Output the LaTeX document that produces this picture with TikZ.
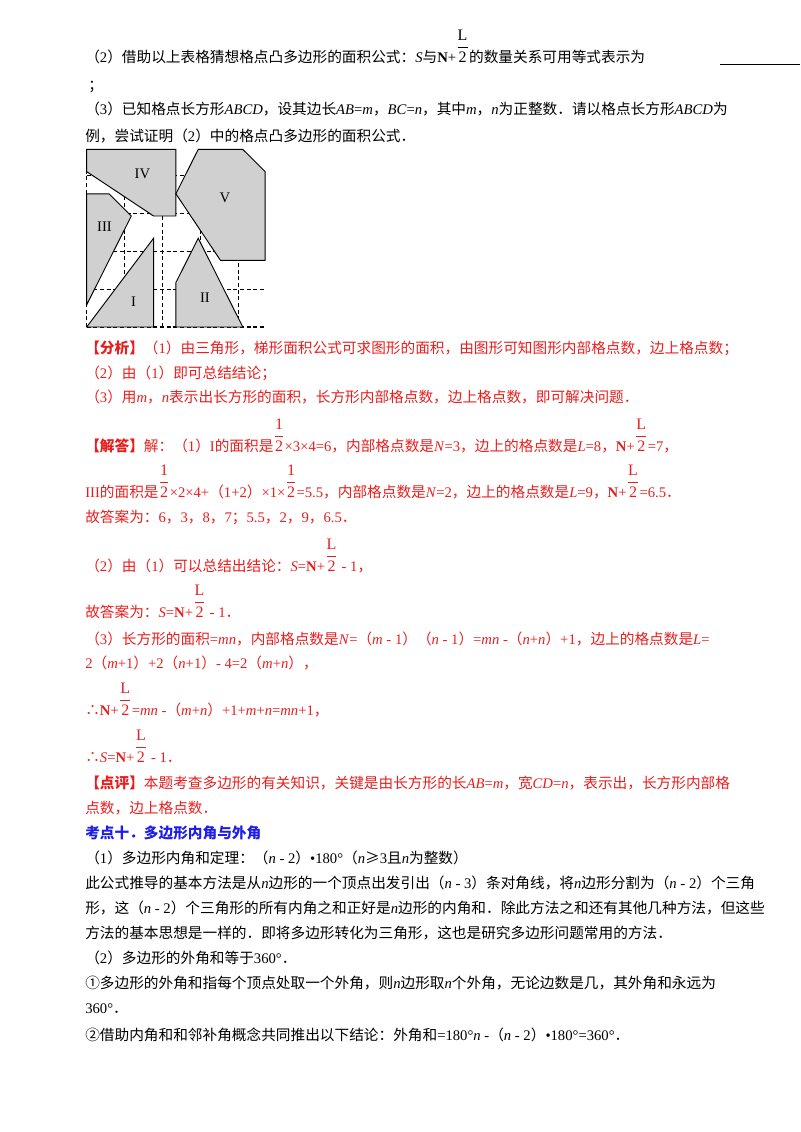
\documentclass[tikz,border=0pt]{standalone}
\usepackage{fontspec}
\setmainfont{Liberation Serif}
\newfontfamily\cjk{Noto Sans CJK SC}
\newcommand\latn{\rmfamily}
\XeTeXinterchartokenstate=1
\newXeTeXintercharclass\CJKcls
\newcount\cc
\cc="3000 \loop \XeTeXcharclass\cc=\CJKcls \ifnum\cc<"9FFF \advance\cc 1 \repeat
\cc="FF00 \loop \XeTeXcharclass\cc=\CJKcls \ifnum\cc<"FFEF \advance\cc 1 \repeat
\cc="2460 \loop \XeTeXcharclass\cc=\CJKcls \ifnum\cc<"2473 \advance\cc 1 \repeat
\XeTeXcharclass"2234=\CJKcls
\XeTeXcharclass"2265=\CJKcls
\XeTeXinterchartoks 0 \CJKcls = {\cjk}
\XeTeXinterchartoks 4095 \CJKcls = {\cjk}
\XeTeXinterchartoks \CJKcls 0 = {\latn}
\XeTeXinterchartoks 4095 0 = {\latn}
\XeTeXinterchartoks \CJKcls 4095 = {\latn}
\newcommand\fr[1]{\raisebox{0.7em}{\large$\displaystyle\frac{\textrm{#1}}{\textrm{2}}$}}
\definecolor{rd}{RGB}{232,30,30}
\definecolor{bl}{RGB}{30,30,230}
\definecolor{gy}{RGB}{208,208,208}
\tikzset{ln/.style={anchor=base west,inner sep=0pt,font=\fontsize{11}{13}\selectfont},
 rl/.style={ln,text=rd},
 poly/.style={draw=black,fill=gy,line width=0.7pt},
 lab/.style={font=\fontsize{11}{13}\selectfont}}
\begin{document}
\begin{tikzpicture}[x=0.75pt,y=-0.75pt]
\useasboundingbox (0,0) rectangle (800,1132);
\node[ln] (l1) at (85,62) {（2）借助以上表格猜想格点凸多边形的面积公式：\textit{S}与\textbf{N}+\fr{L}的数量关系可用等式表示为};
\coordinate (u1) at (720,64); \coordinate (u2) at (800,64);
\draw[line width=0.5pt] (u1) -- (u2);
\node[ln] (l2) at (88,90) {；};
\node[ln] (l3) at (85,114) {（3）已知格点长方形\textit{ABCD}，设其边长\textit{AB}=\textit{m}，\textit{BC}=\textit{n}，其中\textit{m}，\textit{n}为正整数．请以格点长方形\textit{ABCD}为};
\node[ln] (l4) at (85,141) {例，尝试证明（2）中的格点凸多边形的面积公式．};
% figure
\begin{scope}[shift={(86.7,327)},x=16.725pt,y=16.65pt]
\draw[dash pattern=on 3pt off 2pt,line width=0.8pt] (0,0) grid (8,8);
\draw[poly] (0,8)--(4,8)--(4,5)--(3,5)--(0,7)--cycle;
\draw[poly] (0,6)--(1,6)--(2,5)--(0,1)--cycle;
\draw[poly] (5,8)--(7,8)--(8,7)--(8,3)--(6,3)--(4,6)--cycle;
\draw[poly] (0,0)--(3,4)--(3,0)--cycle;
\draw[poly] (4,0)--(4,2)--(5,4)--(7,0)--cycle;
\node[lab] (n4) at (2.5,6.9) {IV};
\node[lab] (n5) at (6.2,5.8) {V};
\node[lab] (n3) at (0.8,4.5) {III};
\node[lab] (n1) at (2.1,1.15) {I};
\node[lab] (n2) at (5.3,1.3) {II};
\end{scope}
\node[rl] (a1) at (85,353) {\textbf{【分析】}（1）由三角形，梯形面积公式可求图形的面积，由图形可知图形内部格点数，边上格点数；};
\node[rl] (a2) at (85,378) {（2）由（1）即可总结结论；};
\node[rl] (a3) at (85,402) {（3）用\textit{m}，\textit{n}表示出长方形的面积，长方形内部格点数，边上格点数，即可解决问题．};
\node[rl] (b1) at (85,451) {\textbf{【解答】}解：（1）I的面积是\fr{1}×3×4=6，内部格点数是\textit{N}=3，边上的格点数是\textit{L}=8，\textbf{N}+\fr{L}=7，};
\node[rl] (b2) at (85,497) {III的面积是\fr{1}×2×4+（1+2）×1×\fr{1}=5.5，内部格点数是\textit{N}=2，边上的格点数是\textit{L}=9，\textbf{N}+\fr{L}=6.5．};
\node[rl] (b3) at (85,522) {故答案为：6，3，8，7；5.5，2，9，6.5．};
\node[rl] (c1) at (85,571) {（2）由（1）可以总结出结论：\textit{S}=\textbf{N}+\fr{L} - 1，};
\node[rl] (c2) at (85,617) {故答案为：\textit{S}=\textbf{N}+\fr{L} - 1．};
\node[rl] (c3) at (85,644) {（3）长方形的面积=\textit{mn}，内部格点数是\textit{N}=（\textit{m} - 1）（\textit{n} - 1）=\textit{mn} -（\textit{n}+\textit{n}）+1，边上的格点数是\textit{L}=};
\node[rl] (c4) at (85,668) {2（\textit{m}+1）+2（\textit{n}+1）- 4=2（\textit{m}+\textit{n}），};
\node[rl] (c5) at (85,715) {∴\textbf{N}+\fr{L}=\textit{mn} -（\textit{m}+\textit{n}）+1+\textit{m}+\textit{n}=\textit{mn}+1，};
\node[rl] (c6) at (85,762) {∴\textit{S}=\textbf{N}+\fr{L} - 1．};
\node[rl] (d1) at (85,788) {\textbf{【点评】}本题考查多边形的有关知识，关键是由长方形的长\textit{AB}=\textit{m}，宽\textit{CD}=\textit{n}，表示出，长方形内部格};
\node[rl] (d2) at (85,813) {点数，边上格点数．};
\node[ln,text=bl] (e0) at (85,838) {\textbf{考点十．多边形内角与外角}};
\node[ln] (e1) at (85,863) {（1）多边形内角和定理：（\textit{n} - 2）•180°（\textit{n}≥3且\textit{n}为整数）};
\node[ln] (e2) at (85,888) {此公式推导的基本方法是从\textit{n}边形的一个顶点出发引出（\textit{n} - 3）条对角线，将\textit{n}边形分割为（\textit{n} - 2）个三角};
\node[ln] (e3) at (85,913) {形，这（\textit{n} - 2）个三角形的所有内角之和正好是\textit{n}边形的内角和．除此方法之和还有其他几种方法，但这些};
\node[ln] (e4) at (85,938) {方法的基本思想是一样的．即将多边形转化为三角形，这也是研究多边形问题常用的方法．};
\node[ln] (e5) at (85,963) {（2）多边形的外角和等于360°．};
\node[ln] (e6) at (85,988) {①多边形的外角和指每个顶点处取一个外角，则\textit{n}边形取\textit{n}个外角，无论边数是几，其外角和永远为};
\node[ln] (e7) at (85,1013) {360°．};
\node[ln] (e8) at (85,1040) {②借助内角和和邻补角概念共同推出以下结论：外角和=180°\textit{n} -（\textit{n} - 2）•180°=360°．};
\end{tikzpicture}
\end{document}
